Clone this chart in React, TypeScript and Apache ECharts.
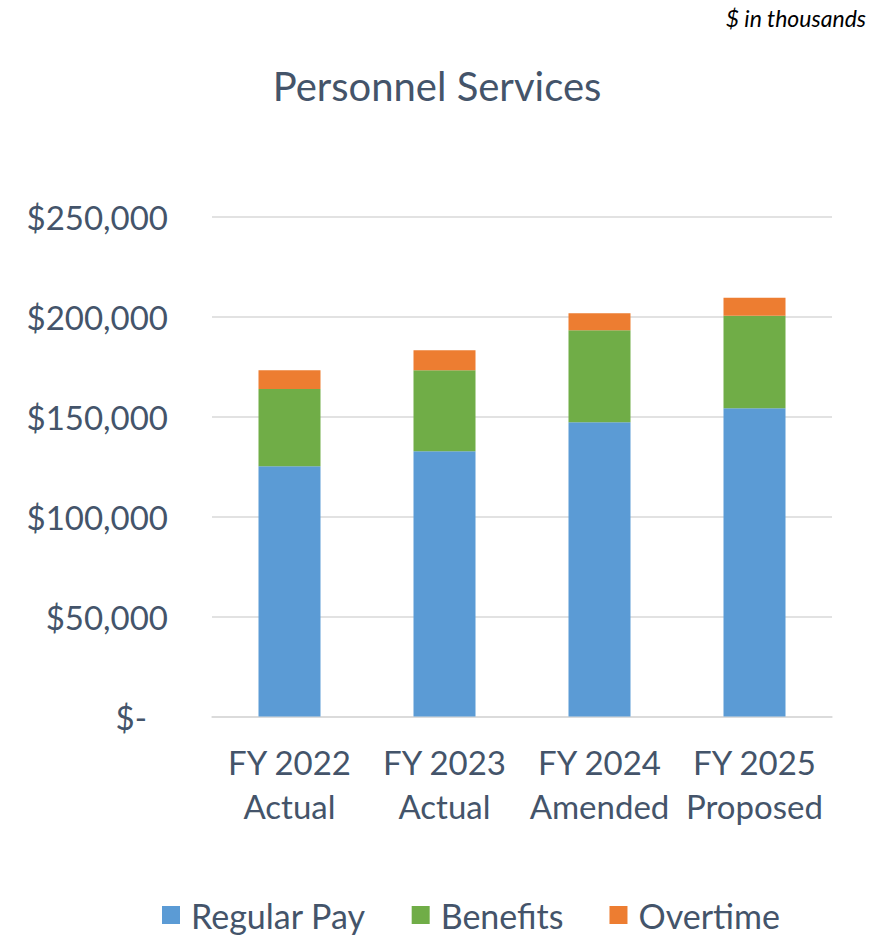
import React, { useEffect, useRef } from "react";
import * as echarts from "echarts";

const categories = ["FY 2022\nActual", "FY 2023\nActual", "FY 2024\nAmended", "FY 2025\nProposed"];
const regularPay = [125100, 132600, 147100, 154100];
const benefits = [38700, 40500, 46000, 46300];
const overtime = [9350, 10000, 8500, 9000];
const seriesNames = ["Regular Pay", "Benefits", "Overtime"];
const colors = ["#5B9BD5", "#70AD47", "#ED7D31"];

const FONT = "Lato, 'Open Sans', sans-serif";
const TEXT = "#44546A";

export default function App() {
  const ref = useRef<HTMLDivElement>(null);
  useEffect(() => {
    if (!ref.current) return;
    const chart = echarts.init(ref.current, undefined, { renderer: "svg" });
    const data = [regularPay, benefits, overtime];
    chart.setOption({
      animation: false,
      textStyle: { fontFamily: FONT },
      graphic: [
        {
          type: "text",
          x: 437,
          y: 86,
          style: {
            text: "Personnel Services",
            fontFamily: FONT,
            fontSize: 40,
            fill: TEXT,
            align: "center",
            verticalAlign: "middle",
          },
        },
        {
          type: "text",
          x: 866,
          y: 18,
          style: {
            text: "$ in thousands",
            fontFamily: FONT,
            fontSize: 23,
            fontStyle: "italic",
            fill: "#000",
            align: "right",
            verticalAlign: "middle",
          },
        },
      ],
      legend: {
        top: 893,
        left: 157,
        itemWidth: 18,
        itemHeight: 18,
        itemGap: 46,
        icon: "rect",
        textStyle: { fontFamily: FONT, fontSize: 34, color: TEXT, padding: [0, 0, 0, 6] },
        data: seriesNames,
      },
      grid: { left: 212, right: 57, top: 216.5, bottom: 221.5, containLabel: false },
      xAxis: {
        type: "category",
        data: categories,
        axisLine: { show: true, lineStyle: { color: "#D9D9D9", width: 1.5 } },
        axisTick: { show: false },
        axisLabel: {
          fontFamily: FONT,
          fontSize: 33,
          color: TEXT,
          lineHeight: 44,
          margin: 23,
          interval: 0,
        },
      },
      yAxis: {
        type: "value",
        min: 0,
        max: 250000,
        interval: 50000,
        axisLine: { show: false },
        axisTick: { show: false },
        splitLine: { lineStyle: { color: "#D9D9D9", width: 1.5 } },
        axisLabel: {
          fontFamily: FONT,
          fontSize: 33,
          color: TEXT,
          margin: 44,
          formatter: (v: number) => (v === 0 ? "{z|$-}" : "$" + v.toLocaleString("en-US")),
          rich: {
            z: { fontFamily: FONT, fontSize: 33, color: TEXT, padding: [0, 21, 0, 0] },
          },
        },
      },
      series: seriesNames.map((name, i) => ({
        name,
        type: "bar",
        stack: "total",
        barWidth: "40%",
        itemStyle: { color: colors[i] },
        data: data[i],
      })),
    });
    return () => chart.dispose();
  }, []);
  return (
    <div
      ref={ref}
      style={{ position: "absolute", left: 0, top: 0, width: 889, height: 938, background: "#fff" }}
    />
  );
}
